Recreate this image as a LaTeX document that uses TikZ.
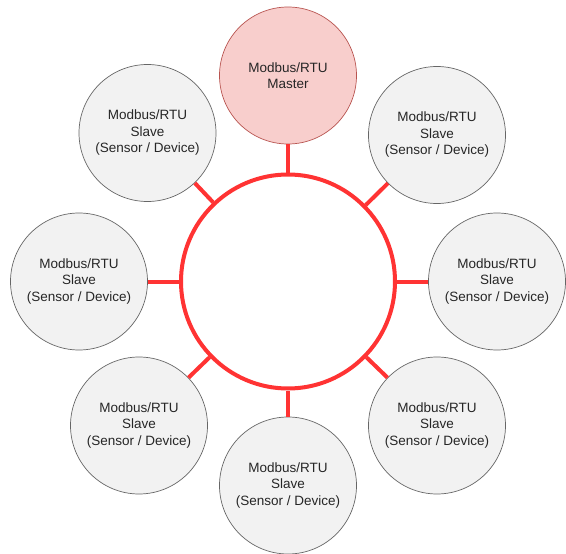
\documentclass[tikz,border=0pt]{standalone}
\usepackage{fontspec}
\setmainfont{Liberation Sans}
\usetikzlibrary{positioning}
\definecolor{busred}{HTML}{FF3333}
\definecolor{slavefill}{HTML}{F2F2F2}
\definecolor{slaveline}{HTML}{666666}
\definecolor{masterfill}{HTML}{F8CECC}
\definecolor{masterline}{HTML}{B85450}
\tikzset{
    unit/.style={circle, draw=slaveline, fill=slavefill, line width=0.7pt,
      minimum size=137pt, inner sep=0pt, align=center,
      font=\fontsize{13.5}{16.5}\selectfont, text=black!85},
    masterunit/.style={unit, draw=masterline, fill=masterfill},
    ring/.style={circle, draw=busred, line width=4pt, minimum size=214pt, inner sep=0pt},
    bus/.style={draw=busred, line width=4pt},
}
\newcommand{\SlaveText}{Modbus/RTU\\Slave\\(Sensor / Device)}

\begin{document}
\begin{tikzpicture}[x=1pt, y=-1pt]
    \useasboundingbox (0,0) rectangle (566,554);

    \node[ring] (hub) at (288,281.5) {};

    \node[masterunit] (m) at (288,75.5) {Modbus/RTU\\Master};
    \node[unit] (s1) at (437,135) {\SlaveText};
    \node[unit] (s2) at (497,281.5) {\SlaveText};
    \node[unit] (s3) at (437,425.5) {\SlaveText};
    \node[unit] (s4) at (288,485.5) {\SlaveText};
    \node[unit] (s5) at (139,425.5) {\SlaveText};
    \node[unit] (s6) at (79,281.5) {\SlaveText};
    \node[unit] (s7) at (147.5,133) {\SlaveText};

    \draw[bus] (hub) -- (m);
    \draw[bus] (hub) -- (s1);
    \draw[bus] (hub) -- (s2);
    \draw[bus] (hub) -- (s3);
    \draw[bus] (hub) -- (s4);
    \draw[bus] (hub) -- (s5);
    \draw[bus] (hub) -- (s6);
    \draw[bus] (hub) -- (s7);
\end{tikzpicture}
\end{document}
